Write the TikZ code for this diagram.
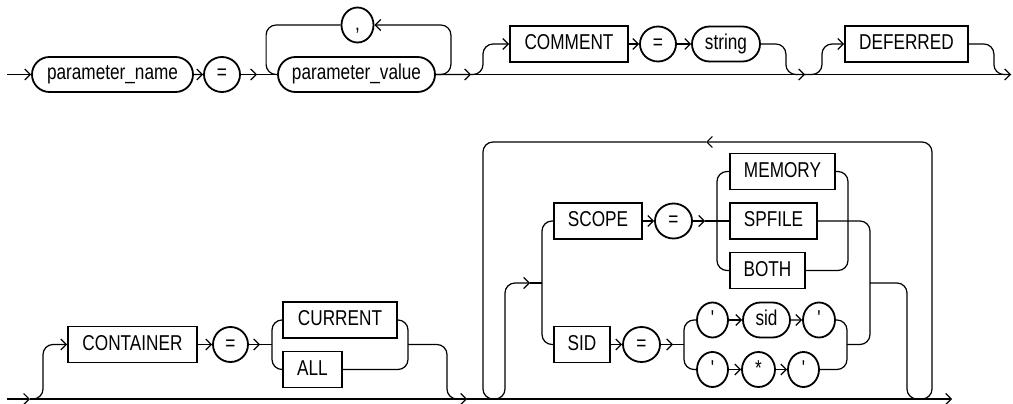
\documentclass[tikz,border=0pt]{standalone}
\usepackage{fontspec}
\setmainfont{Liberation Sans}
\newfontfamily\railfont[FakeStretch=0.8]{Liberation Sans}
\usetikzlibrary{arrows.meta,shapes.geometric,shapes.misc}
\tikzset{
  rail/.style={line width=1.2pt, rounded corners=10pt},
  arr/.style={rail, -{Straight Barb[length=5.5pt,width=11pt]}},
  kwbox/.style={draw, line width=1.8pt, minimum height=36pt, inner sep=0pt,
    text height=15pt, text depth=4pt, font=\railfont\fontsize{21.5pt}{24pt}\selectfont},
  refbox/.style={draw, rounded rectangle, line width=1.8pt, minimum height=35pt,
    inner sep=0pt, text height=15pt, text depth=4pt,
    font=\railfont\fontsize{21.5pt}{24pt}\selectfont},
  symb/.style={draw, ellipse, line width=1.8pt, minimum height=35pt, inner sep=0pt,
    text height=15pt, text depth=4pt, font=\railfont\fontsize{21.5pt}{24pt}\selectfont}
}
\begin{document}
\begin{tikzpicture}[x=1pt, y=-1pt]
  \useasboundingbox (0,0) rectangle (1013,404);
  \node[refbox, minimum width=161pt] (pname) at (112.5,74.5) {parameter\_name};
  \node[symb, minimum width=36pt] (eqa) at (222,74.5) {=};
  \node[refbox, minimum width=157pt] (pval) at (356.5,74.5) {parameter\_value};
  \node[symb, minimum width=32pt] (comma) at (357.5,25) {,};
  \node[kwbox, minimum width=118pt] (comment) at (569,44) {COMMENT};
  \node[symb, minimum width=36pt] (eqb) at (658,44) {=};
  \node[refbox, minimum width=68pt] (str) at (726,44) {string};
  \node[kwbox, minimum width=123pt] (deferred) at (906.5,44) {DEFERRED};
  \coordinate (r1s) at (7,74.5);
  \coordinate (a1) at (257,74.5);
  \coordinate (j1) at (471,74.5);
  \coordinate (j2) at (805,74.5);
  \coordinate (r1e) at (1011,74.5);
  \draw[arr] (r1s) -- (pname);
  \draw[arr] (pname) -- (eqa);
  \draw[arr] (eqa) -- (a1);
  \draw[rail] (a1) -- (pval);
  \draw[arr] (pval.east) -- ++(15,0) |- (comma.east);
  \draw[rail] (comma.west) -- ++(-74.5,0) |- (pval.west);
  \draw[arr] (pval) -- (j1);
  \draw[arr] (j1) -- ++(12,0) |- (comment.west);
  \draw[arr] (comment) -- (eqb);
  \draw[arr] (eqb) -- (str);
  \draw[rail] (str.east) -- ++(25,0) |- (j2);
  \draw[arr] (j1) -- (j2);
  \draw[arr] (j2) -- ++(17,0) |- (deferred.west);
  \draw[rail] (deferred.east) -- ++(25,0) |- (r1e);
  \draw[arr] (j2) -- (r1e);

  \node[kwbox, minimum width=129pt] (container) at (132.5,344.5) {CONTAINER};
  \node[symb, minimum width=35pt] (eqc) at (230.5,344.5) {=};
  \node[kwbox, minimum width=114pt] (current) at (340,320) {CURRENT};
  \node[kwbox, minimum width=59pt] (all) at (312.5,369.5) {ALL};
  \node[kwbox, minimum width=88pt] (scope) at (598,221) {SCOPE};
  \node[symb, minimum width=37pt] (eqd) at (673.5,221) {=};
  \node[kwbox, minimum width=105pt] (memory) at (782.5,171.5) {MEMORY};
  \node[kwbox, minimum width=87pt] (spfile) at (773.5,221) {SPFILE};
  \node[kwbox, minimum width=75pt] (both) at (767.5,270.5) {BOTH};
  \node[kwbox, minimum width=56pt] (sid) at (582,344.5) {SID};
  \node[symb, minimum width=37pt] (eqe) at (641.5,344.5) {=};
  \node[symb, minimum width=31pt] (qa) at (712.5,320) {'};
  \node[refbox, minimum width=47pt] (sidv) at (766.5,320) {sid};
  \node[symb, minimum width=32pt] (qb) at (819,320) {'};
  \node[symb, minimum width=31pt] (qc) at (712.5,369.5) {'};
  \node[symb, minimum width=33pt] (star) at (758.5,369.5) {*};
  \node[symb, minimum width=31pt] (qd) at (803.5,369.5) {'};
  \coordinate (r2s) at (7,399);
  \coordinate (j3) at (30,399);
  \coordinate (a3) at (260,344.5);
  \coordinate (b3) at (272,344.5);
  \coordinate (m3) at (408,344.5);
  \coordinate (j4) at (467,399);
  \coordinate (lpin) at (920,399);
  \coordinate (lpa) at (706,142);
  \coordinate (lpout) at (495,399);
  \coordinate (a6) at (530,283);
  \coordinate (b6) at (542,283);
  \coordinate (a4) at (705,221);
  \coordinate (b4) at (717,221);
  \coordinate (m4) at (848,221);
  \coordinate (a5) at (673,344.5);
  \coordinate (b5) at (684,344.5);
  \coordinate (m7) at (847,344.5);
  \coordinate (m6) at (870,283);
  \coordinate (x6) at (919,399);
  \coordinate (r2e) at (952,399);
  \draw[arr] (r2s) -- (j3);
  \draw[arr] (j3) -- ++(13,0) |- (container.west);
  \draw[arr] (container) -- (eqc);
  \draw[arr] (eqc) -- (a3);
  \draw[rail] (a3) -- (b3);
  \draw[rail] (current.west) -| (b3) |- (all.west);
  \draw[rail] (current.east) -| (m3) |- (all.east);
  \draw[rail] (m3) -- ++(39,0) |- (j4);
  \draw[arr] (j3) -- (j4);
  \draw[arr] (j4) -- (r2e);
  \draw[arr] (lpin) -- ++(12,0) -- ++(0,-257) -- (lpa);
  \draw[rail] (lpa) -- ++(-223,0) -- ++(0,257) -- (lpout);
  \draw[arr] (lpout) -- ++(10,0) |- (a6);
  \draw[rail] (a6) -- (b6);
  \draw[rail] (scope.west) -| (b6) |- (sid.west);
  \draw[arr] (scope) -- (eqd);
  \draw[arr] (eqd) -- (a4);
  \draw[rail] (a4) -- (spfile);
  \draw[rail] (memory.west) -| (b4) |- (both.west);
  \draw[rail] (memory.east) -| (m4) |- (both.east);
  \draw[rail] (spfile.east) -| (m6);
  \draw[arr] (sid) -- (eqe);
  \draw[arr] (eqe) -- (a5);
  \draw[rail] (a5) -- (b5);
  \draw[rail] (qa.west) -| (b5) |- (qc.west);
  \draw[arr] (qa) -- (sidv);
  \draw[arr] (sidv) -- (qb);
  \draw[arr] (qc) -- (star);
  \draw[arr] (star) -- (qd);
  \draw[rail] (qb.east) -| (m7) |- (qd.east);
  \draw[rail] (m7) -| (m6);
  \draw[rail] (m6) -- ++(37,0) |- (x6);
\end{tikzpicture}
\end{document}
